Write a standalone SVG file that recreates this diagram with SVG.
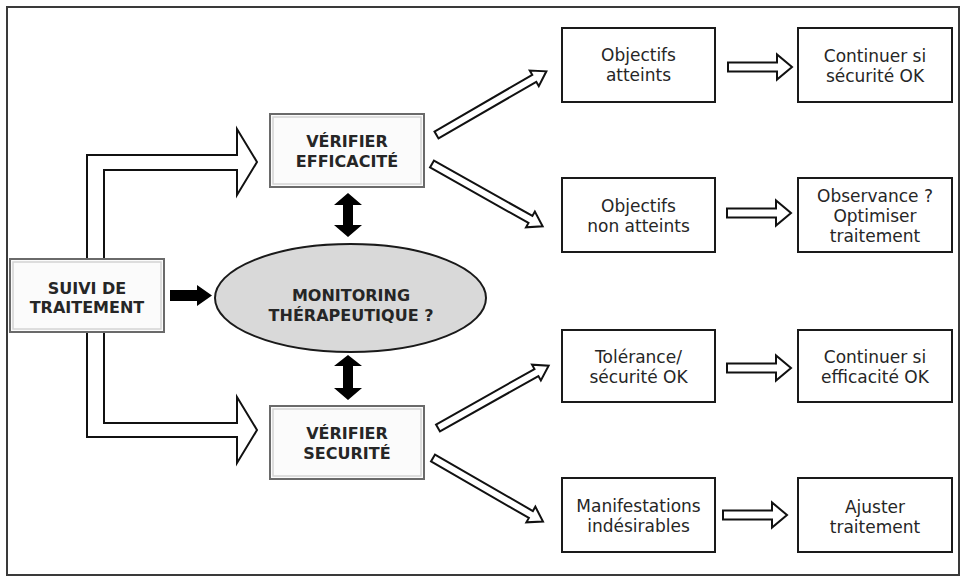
<svg xmlns="http://www.w3.org/2000/svg" xmlns:xlink="http://www.w3.org/1999/xlink" width="965" height="581" viewBox="0 0 965 581">
<style>
.frame{fill:#fff;stroke:#3a3a3a;stroke-width:2}
.lbox{fill:#fbfbfb;stroke:#6a6a6a;stroke-width:2}
.lbox-in{fill:none;stroke:#d4d4d4;stroke-width:1.5}
.rbox{fill:#fff;stroke:#1a1a1a;stroke-width:2}
.ell{fill:#d9d9d9;stroke:#1a1a1a;stroke-width:2}
.bold{font-family:"DejaVu Sans",sans-serif;font-weight:bold;font-size:16px;fill:#262626;text-anchor:middle}
.reg{font-family:"DejaVu Sans",sans-serif;font-size:17px;fill:#262626;text-anchor:middle}
.hollow{fill:#fff;stroke:#111;stroke-width:2;stroke-linejoin:miter}
.solid{fill:#000;stroke:none}
</style>
<defs>
<path id="diag" d="M0,-4 L113,-4 L113,-9 L127,0 L113,9 L113,4 L0,4 Z"/>
<path id="harrow" d="M0,-4.5 L49,-4.5 L49,-12.5 L64,0 L49,12.5 L49,4.5 L0,4.5 Z"/>
</defs>
<rect class="frame" x="7" y="7" width="952" height="568"/>

<g id="connectors">
<path class="hollow" d="M87,259 L87,155 L237,155 L237,129 L257,162 L237,195 L237,170 L104,170 L104,259"/>
<path class="hollow" d="M104,332 L104,423 L237,423 L237,397 L257,430 L237,463 L237,437 L87,437 L87,332"/>
<path class="solid" d="M170,290 L197,290 L197,285 L212,295.5 L197,306 L197,301 L170,301 Z"/>
<path class="solid" d="M348,193 L362,205 L353,205 L353,225 L362,225 L348,237 L334,225 L343,225 L343,205 L334,205 Z"/>
<path class="solid" d="M348,355 L362,366 L353,366 L353,388 L362,388 L348,400 L334,388 L343,388 L343,366 L334,366 Z"/>
<use xlink:href="#diag" class="hollow" transform="translate(436.5,135) rotate(-30.1)"/>
<use xlink:href="#diag" class="hollow" transform="translate(432,164) rotate(29.4)"/>
<use xlink:href="#diag" class="hollow" transform="translate(438,428) rotate(-29.4)"/>
<use xlink:href="#diag" class="hollow" transform="translate(433,458) rotate(30)"/>
<use xlink:href="#harrow" class="hollow" transform="translate(728,67)"/>
<use xlink:href="#harrow" class="hollow" transform="translate(727,213)"/>
<use xlink:href="#harrow" class="hollow" transform="translate(727,368)"/>
<use xlink:href="#harrow" class="hollow" transform="translate(723,515)"/>
</g>

<g id="suivi">
<rect class="lbox" x="10" y="259" width="154" height="73"/>
<rect class="lbox-in" x="13" y="262" width="148" height="67"/>
<text class="bold" x="87" y="294">SUIVI DE</text>
<text class="bold" x="87" y="313">TRAITEMENT</text>
</g>

<g id="verifier-efficacite">
<rect class="lbox" x="270" y="114" width="154" height="73"/>
<rect class="lbox-in" x="273" y="117" width="148" height="67"/>
<text class="bold" x="347" y="147">VÉRIFIER</text>
<text class="bold" x="347" y="167">EFFICACITÉ</text>
</g>

<g id="monitoring">
<ellipse class="ell" cx="350.5" cy="298" rx="135.5" ry="54"/>
<text class="bold" x="351" y="301">MONITORING</text>
<text class="bold" x="351" y="321">THÉRAPEUTIQUE ?</text>
</g>

<g id="verifier-securite">
<rect class="lbox" x="270" y="406" width="154" height="73"/>
<rect class="lbox-in" x="273" y="409" width="148" height="67"/>
<text class="bold" x="347" y="439">VÉRIFIER</text>
<text class="bold" x="347" y="459">SECURITÉ</text>
</g>

<g id="objectifs-atteints">
<rect class="rbox" x="562" y="28" width="153" height="74"/>
<text class="reg" x="638.5" y="61">Objectifs</text>
<text class="reg" x="638.5" y="81">atteints</text>
</g>

<g id="objectifs-non-atteints">
<rect class="rbox" x="562" y="178" width="153" height="74"/>
<text class="reg" x="638.5" y="212">Objectifs</text>
<text class="reg" x="638.5" y="232">non atteints</text>
</g>

<g id="tolerance">
<rect class="rbox" x="562" y="330" width="153" height="72"/>
<text class="reg" x="638.5" y="363">Tolérance/</text>
<text class="reg" x="638.5" y="383">sécurité OK</text>
</g>

<g id="manifestations">
<rect class="rbox" x="562" y="478" width="153" height="74"/>
<text class="reg" x="638.5" y="512">Manifestations</text>
<text class="reg" x="638.5" y="532">indésirables</text>
</g>

<g id="continuer-securite">
<rect class="rbox" x="798" y="28" width="154" height="74"/>
<text class="reg" x="875" y="62">Continuer si</text>
<text class="reg" x="875" y="82">sécurité OK</text>
</g>

<g id="observance">
<rect class="rbox" x="798" y="178" width="154" height="74"/>
<text class="reg" x="875" y="202">Observance ?</text>
<text class="reg" x="875" y="222">Optimiser</text>
<text class="reg" x="875" y="242">traitement</text>
</g>

<g id="continuer-efficacite">
<rect class="rbox" x="798" y="330" width="154" height="72"/>
<text class="reg" x="875" y="363">Continuer si</text>
<text class="reg" x="875" y="383">efficacité OK</text>
</g>

<g id="ajuster">
<rect class="rbox" x="798" y="478" width="154" height="74"/>
<text class="reg" x="875" y="513">Ajuster</text>
<text class="reg" x="875" y="533">traitement</text>
</g>
</svg>
